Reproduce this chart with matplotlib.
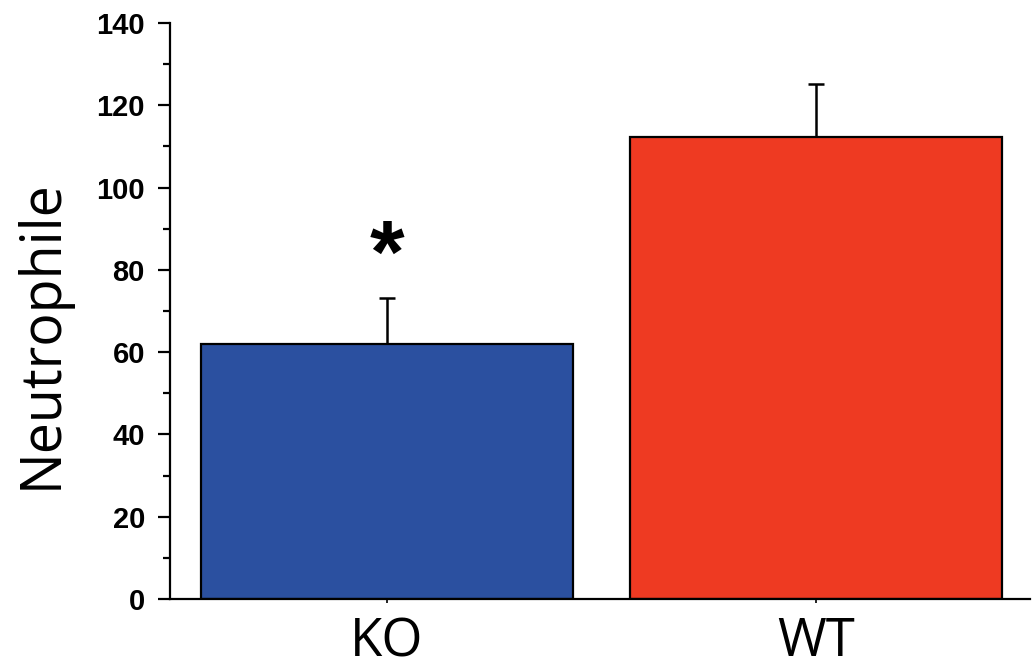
import numpy as np
import matplotlib.pyplot as plt
from matplotlib.ticker import MultipleLocator

groups = ["KO", "WT"]
means = [62.0, 112.3]
errs = [11.2, 12.9]
colors = ["#2B50A0", "#EE3A22"]
sig = ["*", ""]

fig = plt.figure(figsize=(10.34, 6.71), dpi=100)
ax = fig.add_axes([0.1644, 0.1073, 0.8316, 0.8584])

x = np.arange(len(groups))
ax.bar(x, means, width=0.866, color=colors, edgecolor="black", linewidth=1.6, zorder=2)
ax.errorbar(x, means, yerr=[np.zeros(len(errs)), errs], fmt="none", ecolor="black",
            elinewidth=1.8, capsize=5.5, capthick=1.8, zorder=1)
for xi, m, e, s in zip(x, means, errs, sig):
    if s:
        ax.text(xi, m + e + 9.5, s, ha="center", va="center", fontsize=64,
                fontweight="bold", family="Liberation Sans")

ax.set_xlim(-0.505, 1.497)
ax.set_ylim(0, 140)
ax.set_xticks(x)
ax.set_xticklabels(groups, family="Open Sans", fontsize=38)
ax.tick_params(axis="x", length=3, width=1.2, pad=9)
ax.yaxis.set_major_locator(MultipleLocator(20))
ax.yaxis.set_minor_locator(MultipleLocator(10))
ax.tick_params(axis="y", which="major", length=9, width=1.6, labelsize=21, pad=9)
ax.tick_params(axis="y", which="minor", length=5, width=1.6)
for lab in ax.get_yticklabels():
    lab.set_family("Liberation Sans")
    lab.set_fontweight("bold")
ax.set_ylabel("Neutrophile", family="Open Sans", fontsize=40)
ax.yaxis.set_label_coords(-0.115, 0.46)

for sp in ["top", "right"]:
    ax.spines[sp].set_visible(False)
for sp in ["left", "bottom"]:
    ax.spines[sp].set_linewidth(1.6)

fig.savefig("out.png", dpi=100)
